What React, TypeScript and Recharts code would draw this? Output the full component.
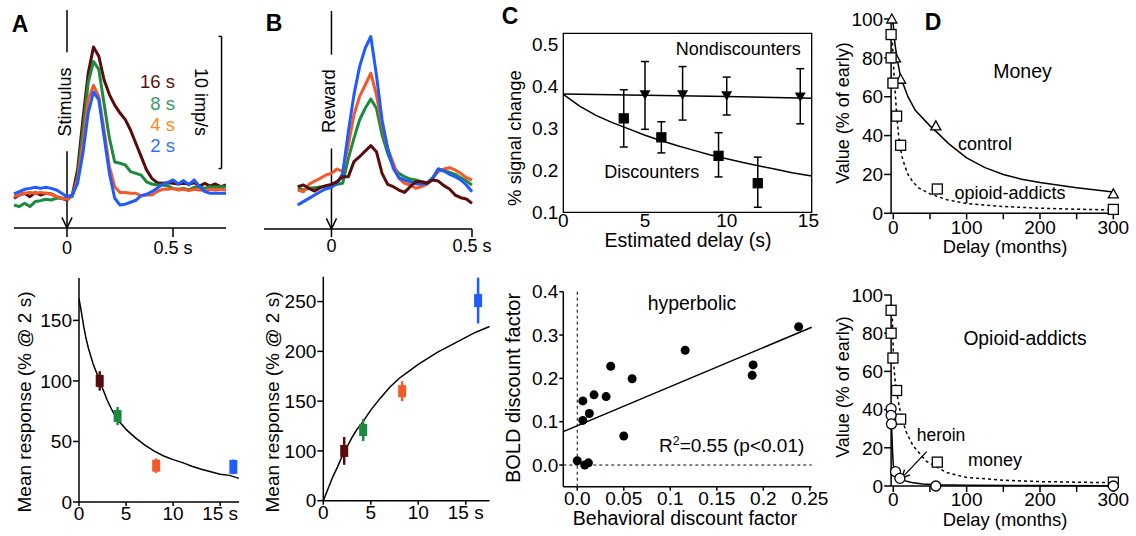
import React from "react";
import {
  ComposedChart,
  Line,
  Scatter,
  XAxis,
  YAxis,
  ErrorBar,
  ReferenceLine,
  ReferenceArea,
} from "recharts";

const FONT = '"Liberation Sans", Arial, Helvetica, sans-serif';
const INK = "#000";
const DARK = "#5a0b0b";
const GREEN = "#1c8a3f";
const ORANGE = "#f3592b";
const BLUE = "#1f5cfb";
const COLS = [DARK, GREEN, ORANGE, BLUE];

// A top: responses to the stimulus (imp/s), one trace per delay
const tA = [-0.25, -0.225, -0.2, -0.175, -0.15, -0.125, -0.1, -0.075, -0.05, -0.025, 0, 0.025, 0.05, 0.075, 0.1, 0.125, 0.15, 0.175, 0.2, 0.225, 0.25, 0.275, 0.3, 0.325, 0.35, 0.375, 0.4, 0.425, 0.45, 0.475, 0.5, 0.525, 0.55, 0.575, 0.6, 0.625, 0.65, 0.675, 0.7, 0.725, 0.75];
const a16 = [2.25, 2.5, 2.63, 2.37, 2.68, 2.5, 2.63, 2.58, 2.37, 2.25, 2.12, 2.5, 4.4, 8.2, 11.7, 13.7, 13.0, 11.2, 10.1, 9.3, 8.7, 8.2, 7.4, 6.4, 5.4, 4.4, 3.76, 3.43, 3.38, 3.43, 3.38, 3.33, 3.38, 3.33, 3.43, 3.18, 3.38, 3.18, 3.33, 3.13, 3.25];
const a8 = [1.74, 1.62, 1.87, 1.62, 2.0, 2.07, 2.17, 2.12, 2.25, 2.25, 2.25, 2.37, 3.9, 7.4, 11.0, 12.6, 12.0, 9.4, 6.8, 5.0, 4.9, 4.77, 4.27, 4.14, 4.0, 3.5, 3.33, 3.26, 3.26, 3.18, 3.0, 2.93, 3.0, 2.88, 3.08, 3.13, 3.0, 3.13, 3.08, 3.13, 3.13];
const a4 = [2.37, 2.5, 2.63, 2.68, 2.63, 2.68, 2.63, 2.58, 2.37, 2.25, 2.17, 2.5, 3.64, 6.4, 9.7, 10.8, 9.95, 7.4, 4.65, 3.13, 2.68, 2.68, 2.63, 2.63, 2.42, 2.5, 2.5, 2.75, 2.93, 2.93, 2.98, 2.88, 2.93, 2.83, 2.93, 2.88, 2.83, 2.93, 2.88, 2.93, 2.88];
const a2 = [2.58, 2.75, 2.93, 3.0, 3.08, 3.0, 3.08, 3.0, 2.88, 2.63, 2.37, 2.5, 3.38, 5.65, 8.7, 10.3, 9.7, 6.9, 4.14, 2.25, 1.74, 1.8, 1.95, 2.1, 2.45, 2.55, 2.75, 3.0, 3.3, 3.43, 3.64, 3.33, 3.59, 3.26, 3.64, 3.13, 2.75, 2.63, 2.63, 2.63, 2.63];

// B top: responses to the reward
const tB = [-0.12, -0.1, -0.08, -0.06, -0.04, -0.02, 0, 0.02, 0.04, 0.06, 0.08, 0.1, 0.12, 0.14, 0.16, 0.18, 0.2, 0.22, 0.24, 0.26, 0.28, 0.3, 0.32, 0.34, 0.36, 0.38, 0.4, 0.42, 0.44, 0.46, 0.48, 0.5];
const b2 = [1.81, 2.07, 2.32, 2.57, 2.82, 3.03, 3.15, 3.46, 4.21, 7.37, 10.15, 12.29, 13.68, 14.57, 11.66, 8.25, 6.11, 4.59, 3.88, 3.71, 3.58, 3.43, 3.38, 3.46, 3.83, 4.54, 4.39, 4.14, 3.96, 3.71, 3.33, 2.82];
const b4 = [2.95, 2.82, 3.38, 3.63, 3.83, 4.09, 4.21, 4.54, 4.34, 6.36, 8.63, 10.02, 10.9, 11.79, 10.15, 7.87, 6.11, 4.97, 3.83, 3.46, 3.33, 3.08, 3.2, 3.38, 3.83, 4.34, 4.54, 4.64, 4.47, 4.21, 3.88, 3.71];
const b8 = [3.08, 2.95, 3.08, 3.13, 3.18, 3.23, 3.28, 3.38, 3.46, 5.35, 6.86, 8.25, 9.14, 9.84, 9.14, 7.12, 5.73, 4.72, 4.21, 3.96, 3.78, 3.71, 3.58, 3.5, 3.88, 4.54, 4.39, 4.29, 4.14, 3.88, 3.63, 3.33];
const b16 = [3.2, 3.33, 3.08, 2.87, 3.13, 3.28, 3.38, 3.58, 3.96, 3.96, 5.1, 5.47, 5.9, 6.31, 5.85, 4.21, 3.38, 3.2, 2.95, 2.77, 3.2, 3.58, 3.58, 3.46, 3.71, 3.63, 3.28, 3.03, 2.57, 2.37, 2.27, 1.94];

// A bottom: mean stimulus response vs delay
const delayA = [2.2, 4.1, 8.2, 16.4];
const respA = [100, 71, 30, 29];
const errA = [8, 7.5, 6, 6];
const fitAx = [0, 0.25, 0.5, 0.75, 1, 1.5, 2, 2.5, 3, 3.5, 4, 5, 6, 7, 8, 9, 10, 11, 12, 13, 14, 15, 16, 17];
const fitAy = [168, 157, 145, 135, 127, 114, 104, 94, 84, 76, 69, 60, 53, 47, 42, 38, 35, 32.5, 29.5, 27, 25, 23, 22, 19.5];

// B bottom: mean reward response vs delay (axis as printed: lowest tick reads 0)
const delayB = [2.2, 4.2, 8.3, 16.3];
const respB = [100, 121, 160, 251];
const errB = [14, 11, 10, 23];
const fitBx = [0, 0.5, 1, 1.5, 2, 2.5, 3, 3.5, 4, 4.5, 5, 6, 7, 8, 9, 10, 11, 12, 13, 14, 15, 16, 17, 17.5];
const fitBy = [50, 62, 74, 84, 95, 104, 113, 121, 127, 134, 141, 153, 164, 173, 180, 187, 193, 199, 204, 209, 214, 219, 223, 225];

// C top: % signal change vs estimated delay
const ndX = [5.0, 7.3, 10.0, 14.5];
const ndY = [0.379, 0.379, 0.377, 0.374];
const ndLo = [0.297, 0.319, 0.331, 0.31];
const ndHi = [0.458, 0.446, 0.421, 0.441];
const dX = [3.7, 6.0, 9.5, 11.9];
const dY = [0.323, 0.278, 0.234, 0.169];
const dLo = [0.255, 0.241, 0.184, 0.112];
const dHi = [0.391, 0.315, 0.289, 0.231];
const ndFitX = [0, 5, 10, 15.2];
const ndFitY = [0.381, 0.378, 0.375, 0.371];
const dFitX = [0, 1, 2, 3, 4, 5, 6, 7, 8, 9, 10, 11, 12, 13, 14, 15.2];
const dFitY = [0.38, 0.352, 0.33, 0.313, 0.298, 0.283, 0.27, 0.258, 0.247, 0.236, 0.227, 0.218, 0.21, 0.202, 0.194, 0.186];

// C bottom: BOLD vs behavioral discount factor
const behav = [0.0, 0.008, 0.012, 0.006, 0.006, 0.013, 0.018, 0.031, 0.036, 0.05, 0.059, 0.116, 0.189, 0.188, 0.238];
const bold = [0.01, 0.0, 0.005, 0.148, 0.103, 0.119, 0.162, 0.158, 0.228, 0.067, 0.199, 0.265, 0.231, 0.207, 0.319];
const regX = [-0.015, 0.252];
const regY = [0.077, 0.318];

// D: value (% of early) vs delay (months)
const ctrlX = [-2, 3, 10, 58, 300];
const ctrlY = [100, 80, 69, 45, 10];
const ctrlFitX = [-2, 0, 2, 5, 10, 20, 30, 50, 60, 75, 90, 100, 125, 150, 175, 200, 250, 300];
const ctrlFitY = [100, 97, 88, 80, 70, 60, 53, 45, 41.5, 36, 31.5, 28.5, 23.5, 20, 17.5, 15.8, 13.2, 11];
const monX = [-3, -3, -0.5, 4.5, 10, 60, 300];
const monY = [92, 80, 67, 50, 35, 12.5, 2];
const monFitTopX = [-2, -1, 0, 1, 2.5, 4.5, 7, 9, 12, 16, 20, 27, 35, 50, 73, 100, 150, 200, 250, 300];
const monFitTopY = [94, 86, 79, 71, 63, 51, 41, 35, 29, 24, 20, 16, 13, 10, 7, 5, 3.5, 2.6, 2.1, 1.7];
const herX = [-3, -3, -2.5, 3, 9, 58, 300];
const herY = [40.5, 37, 32.5, 7.5, 4, 0, 0];
const herFitX = [-3, -2, -1, 0, 1, 3, 6, 10, 15, 25, 40, 60, 100, 200, 300];
const herFitY = [40, 28, 18, 11, 8.5, 6.5, 5, 3.8, 2.8, 1.8, 1.1, 0.7, 0.4, 0.2, 0.1];
const monFitBotX = [-2, -1, 0, 1, 2.5, 5, 7, 11, 18, 27, 45, 73, 100, 150, 200, 300];
const monFitBotY = [94, 85, 70, 62, 55, 48, 44, 36, 28, 21, 13, 7, 4.5, 3, 2.3, 1.7];

const pts = (xs: number[], ys: number[]) => xs.map((x, i) => ({ x, y: ys[i] }));
const withErr = (xs: number[], ys: number[], lo: number[], hi: number[]) =>
  xs.map((x, i) => ({ x, y: ys[i], e: [ys[i] - lo[i], hi[i] - ys[i]] }));

const axisLine = { stroke: INK, strokeWidth: 1.5 };
const tickLine = { stroke: INK, strokeWidth: 1.5 };
const tf = (size: number) => ({ fontSize: size, fill: INK, fontFamily: FONT });

const bar = (color: string, w: number, h: number) => (p: any) => (
  <rect x={p.cx - w / 2} y={p.cy - h / 2} width={w} height={h} fill={color} />
);
const square = (filled: boolean, s: number) => (p: any) => (
  <rect x={p.cx - s / 2} y={p.cy - s / 2} width={s} height={s} fill={filled ? INK : "#fff"} stroke={INK} strokeWidth={1.3} />
);
const triDown = (p: any) => (
  <path d={`M${p.cx - 5.5},${p.cy - 4.5}L${p.cx + 5.5},${p.cy - 4.5}L${p.cx},${p.cy + 5}Z`} fill={INK} />
);
const triUp = (p: any) => (
  <path d={`M${p.cx - 5},${p.cy + 4}L${p.cx + 5},${p.cy + 4}L${p.cx},${p.cy - 5}Z`} fill="#fff" stroke={INK} strokeWidth={1.3} />
);
const ring = (p: any) => <circle cx={p.cx} cy={p.cy} r={5} fill="#fff" stroke={INK} strokeWidth={1.3} />;
const dot = (p: any) => <circle cx={p.cx} cy={p.cy} r={4.5} fill={INK} />;

const seg = (key: string, x1: number, y1: number, x2: number, y2: number, w = 1.5) => (
  <ReferenceLine key={key} segment={[{ x: x1, y: y1 }, { x: x2, y: y2 }]} stroke={INK} strokeWidth={w} ifOverflow="visible" />
);

const trace = (key: string, xs: number[], ys: number[], color: string) => (
  <Line key={key} data={pts(xs, ys)} dataKey="y" type="linear" stroke={color} strokeWidth={3} strokeLinejoin="round" dot={false} activeDot={false} isAnimationActive={false} />
);
const curve = (key: string, xs: number[], ys: number[], dash?: string) => (
  <Line key={key} data={pts(xs, ys)} dataKey="y" type="linear" stroke={INK} strokeWidth={1.5} strokeDasharray={dash} dot={false} activeDot={false} isAnimationActive={false} />
);

function Pos({ l, t, children }: any) {
  return <div style={{ position: "absolute", left: l, top: t }}>{children}</div>;
}

function Txt({ x, y, s = 18, r = 0, c = INK, a = "middle", b = false, children }: any) {
  const tx = a === "middle" ? "-50%" : a === "end" ? "-100%" : "0%";
  return (
    <div
      style={{
        position: "absolute",
        left: x,
        top: y,
        transform: `translate(${tx}, -50%) rotate(${r}deg)`,
        fontSize: s,
        color: c,
        fontWeight: b ? 700 : 400,
        lineHeight: 1,
        whiteSpace: "nowrap",
        fontFamily: FONT,
      }}
    >
      {children}
    </div>
  );
}

function StimulusChart() {
  return (
    <ComposedChart width={240} height={270} margin={{ top: 10, right: 14, bottom: 0, left: 14 }}>
      <XAxis dataKey="x" type="number" domain={[-0.25, 0.75]} ticks={[0, 0.5]} tickFormatter={(v: number) => (v === 0 ? "0" : "0.5 s")} height={42} axisLine={axisLine} tickLine={tickLine} tickSize={9} tickMargin={4} tick={tf(18)} />
      <YAxis type="number" domain={[0, 16.5]} hide />
      {seg("s1", 0, 16.5, 0, 13.3)}
      {seg("s2", 0, 5.8, 0, 0)}
      {seg("s3", -0.024, 0.8, 0, 0)}
      {seg("s4", 0.024, 0.8, 0, 0)}
      {seg("sb", 0.729, 4.5, 0.729, 14.5)}
      {seg("sb1", 0.715, 14.5, 0.729, 14.5)}
      {seg("sb2", 0.715, 4.5, 0.729, 4.5)}
      {trace("a16", tA, a16, DARK)}
      {trace("a8", tA, a8, GREEN)}
      {trace("a4", tA, a4, ORANGE)}
      {trace("a2", tA, a2, BLUE)}
    </ComposedChart>
  );
}

function RewardChart() {
  return (
    <ComposedChart width={250} height={270} margin={{ top: 11, right: 28, bottom: 0, left: 14 }}>
      <XAxis dataKey="x" type="number" domain={[-0.24, 0.5]} ticks={[0, 0.5]} tickFormatter={(v: number) => (v === 0 ? "0" : "0.5 s")} height={41} axisLine={axisLine} tickLine={tickLine} tickSize={8} tickMargin={2} tick={tf(18)} />
      <YAxis type="number" domain={[0, 16.5]} hide />
      {seg("r1", 0, 16.5, 0, 13.2)}
      {seg("r2", 0, 6.1, 0, 0)}
      {seg("r3", -0.018, 0.8, 0, 0)}
      {seg("r4", 0.018, 0.8, 0, 0)}
      {trace("b8", tB, b8, GREEN)}
      {trace("b4", tB, b4, ORANGE)}
      {trace("b2", tB, b2, BLUE)}
      {trace("b16", tB, b16, DARK)}
    </ComposedChart>
  );
}

function MeanChart({ delays, resp, err, fx, fy, domainX, domainY, ticksY, fmtY, yw, w, right, top, blueH }: any) {
  return (
    <ComposedChart width={w} height={274} margin={{ top, right, bottom: 0, left: 0 }}>
      <XAxis dataKey="x" type="number" domain={domainX} ticks={[0, 5, 10, 15]} tickFormatter={(v: number) => (v === 15 ? "15 s" : String(v))} height={274 - top - 224} axisLine={axisLine} tickLine={tickLine} tickSize={4} tickMargin={1} tick={tf(19)} />
      <YAxis type="number" domain={domainY} ticks={ticksY} tickFormatter={fmtY} width={yw} axisLine={axisLine} tickLine={tickLine} tickSize={6} tickMargin={1} tick={tf(19)} />
      {curve("fit", fx, fy)}
      {delays.map((d: number, i: number) => (
        <Scatter key={"m" + i} data={[{ x: d, y: resp[i], e: err[i] }]} dataKey="y" shape={bar(COLS[i], 8, i === 3 ? blueH : 12)} isAnimationActive={false}>
          <ErrorBar dataKey="e" direction="y" width={0} stroke={COLS[i]} strokeWidth={2.5} />
        </Scatter>
      ))}
    </ComposedChart>
  );
}

function SignalChart() {
  return (
    <ComposedChart width={330} height={262} margin={{ top: 33.3, right: 18.3, bottom: 0, left: 0 }}>
      <XAxis dataKey="x" type="number" domain={[0, 15.2]} ticks={[0, 5, 10, 15]} height={49.7} axisLine={false} tickLine={false} tickSize={0} tickMargin={1} tick={tf(19)} />
      <YAxis type="number" domain={[0.1, 0.525]} ticks={[0.1, 0.2, 0.3, 0.4, 0.5]} tickFormatter={(v: number) => v.toFixed(1)} width={63.3} axisLine={false} tickLine={false} tickSize={0} tickMargin={5} tick={tf(19)} />
      <ReferenceArea x1={0} x2={15.2} y1={0.1} y2={0.525} fill="none" stroke={INK} strokeWidth={1.3} ifOverflow="visible" />
      {curve("nd", ndFitX, ndFitY)}
      {curve("d", dFitX, dFitY)}
      <Scatter data={withErr(ndX, ndY, ndLo, ndHi)} dataKey="y" shape={triDown} isAnimationActive={false}>
        <ErrorBar dataKey="e" direction="y" width={4} stroke={INK} strokeWidth={1.5} />
      </Scatter>
      <Scatter data={withErr(dX, dY, dLo, dHi)} dataKey="y" shape={square(true, 9)} isAnimationActive={false}>
        <ErrorBar dataKey="e" direction="y" width={4} stroke={INK} strokeWidth={1.5} />
      </Scatter>
    </ComposedChart>
  );
}

function FactorChart() {
  const fmt = (v: number) => (v === 0 ? "0.0" : String(v));
  return (
    <ComposedChart width={330} height={274} margin={{ top: 29.7, right: 18.3, bottom: 0, left: 0 }}>
      <XAxis dataKey="x" type="number" domain={[-0.015, 0.252]} ticks={[0, 0.05, 0.1, 0.15, 0.2, 0.25]} tickFormatter={fmt} height={49.3} axisLine={axisLine} tickLine={tickLine} tickSize={4} tickMargin={1} tick={tf(19)} />
      <YAxis type="number" domain={[-0.05, 0.4]} ticks={[0, 0.1, 0.2, 0.3, 0.4]} tickFormatter={(v: number) => v.toFixed(1)} width={63.3} axisLine={axisLine} tickLine={tickLine} tickSize={4} tickMargin={1} tick={tf(19)} />
      <ReferenceLine x={0} stroke={INK} strokeWidth={1} strokeDasharray="3 3" />
      <ReferenceLine y={0} stroke={INK} strokeWidth={1} strokeDasharray="3 3" />
      {curve("reg", regX, regY)}
      <Scatter data={pts(behav, bold)} dataKey="y" shape={dot} isAnimationActive={false} />
    </ComposedChart>
  );
}

function ValueChart({ top, children }: any) {
  return (
    <ComposedChart width={306} height={top === 19 ? 262 : 274} margin={{ top, right: 21.2, bottom: 0, left: 0 }}>
      <XAxis dataKey="x" type="number" domain={[-3, 302]} ticks={[0, 50, 100, 150, 200, 250, 300]} tickFormatter={(v: number) => (v % 100 === 0 ? String(v) : "")} height={top === 19 ? 48.7 : 50} axisLine={axisLine} tickLine={tickLine} tickSize={6} tickMargin={1} tick={tf(19)} />
      <YAxis type="number" domain={[0, 100]} ticks={[0, 20, 40, 60, 80, 100]} width={61.1} axisLine={axisLine} tickLine={tickLine} tickSize={7} tickMargin={1} tick={tf(19)} />
      {children}
    </ComposedChart>
  );
}

export default function App() {
  return (
    <div style={{ position: "absolute", left: 0, top: 0, width: 1136, height: 536, background: "#fff", overflow: "hidden", fontFamily: FONT }}>
      <Pos l={0} t={0}>
        <StimulusChart />
      </Pos>
      <Pos l={250} t={0}>
        <RewardChart />
      </Pos>
      <Pos l={0} t={262}>
        <MeanChart delays={delayA} resp={respA} err={errA} fx={fitAx} fy={fitAy} domainX={[0, 17]} domainY={[0, 185]} ticksY={[0, 50, 100, 150]} fmtY={(v: number) => String(v)} yw={79} w={250} right={11} top={16} blueH={14} />
      </Pos>
      <Pos l={250} t={262}>
        <MeanChart delays={delayB} resp={respB} err={errB} fx={fitBx} fy={fitBy} domainX={[0, 17.5]} domainY={[50, 275]} ticksY={[50, 100, 150, 200, 250]} fmtY={(v: number) => (v === 50 ? "0" : String(v))} yw={73.3} w={250} right={10.5} top={14.7} blueH={13} />
      </Pos>
      <Pos l={500} t={0}>
        <SignalChart />
      </Pos>
      <Pos l={500} t={262}>
        <FactorChart />
      </Pos>
      <Pos l={830} t={0}>
        <ValueChart top={19}>
          {curve("ctrl", ctrlFitX, ctrlFitY)}
          {curve("mon", monFitTopX, monFitTopY, "3 3")}
          <Scatter data={pts(ctrlX, ctrlY)} dataKey="y" shape={triUp} isAnimationActive={false} />
          <Scatter data={pts(monX, monY)} dataKey="y" shape={square(false, 10)} isAnimationActive={false} />
        </ValueChart>
      </Pos>
      <Pos l={830} t={262}>
        <ValueChart top={33}>
          {curve("her", herFitX, herFitY)}
          {curve("mon2", monFitBotX, monFitBotY, "3 3")}
          {seg("ar", 45.5, 18, 11.3, 4.1, 1.3)}
          {seg("ar1", 22.9, 5.8, 11.3, 4.1, 1.3)}
          {seg("ar2", 15.3, 8.5, 11.3, 4.1, 1.3)}
          <Scatter data={pts(monX, monY)} dataKey="y" shape={square(false, 10)} isAnimationActive={false} />
          <Scatter data={pts(herX, herY)} dataKey="y" shape={ring} isAnimationActive={false} />
        </ValueChart>
      </Pos>

      <Txt x={20} y={23.5} s={23} b>A</Txt>
      <Txt x={274} y={23} s={23} b>B</Txt>
      <Txt x={510} y={15.5} s={23} b>C</Txt>
      <Txt x={933} y={21.7} s={23} b>D</Txt>

      <Txt x={64.5} y={102} s={18} r={-90}>Stimulus</Txt>
      <Txt x={329} y={101} s={18.5} r={-90}>Reward</Txt>
      <Txt x={175} y={82} s={18.5} a="end" c="#5a1010">16 s</Txt>
      <Txt x={175} y={103.5} s={18.5} a="end" c="#3a9a60">8 s</Txt>
      <Txt x={175} y={125} s={18.5} a="end" c="#ff8a20">4 s</Txt>
      <Txt x={175} y={146} s={18.5} a="end" c="#3070ff">2 s</Txt>
      <Txt x={201} y={102} s={18} r={90}>10 imp/s</Txt>

      <Txt x={24} y={402} s={19} r={-90}>Mean response (% @ 2 s)</Txt>
      <Txt x={272} y={402} s={19} r={-90}>Mean response (% @ 2 s)</Txt>

      <Txt x={515} y={137.5} s={18.5} r={-90}>% signal change</Txt>
      <Txt x={688} y={240.5} s={19.5}>Estimated delay (s)</Txt>
      <Txt x={738.3} y={49.4} s={18}>Nondiscounters</Txt>
      <Txt x={651.7} y={171.8} s={18}>Discounters</Txt>

      <Txt x={513} y={388} s={20} r={-90}>BOLD discount factor</Txt>
      <Txt x={685} y={519} s={19.5}>Behavioral discount factor</Txt>
      <Txt x={692} y={304} s={19.4}>hyperbolic</Txt>
      <Txt x={731.7} y={445} s={19}>
        R<sup style={{ fontSize: "0.65em", verticalAlign: "0.55em", lineHeight: 0 }}>2</sup>=0.55 (p&lt;0.01)
      </Txt>

      <Txt x={843} y={113} s={18} r={-90}>Value (% of early)</Txt>
      <Txt x={843} y={387} s={18} r={-90}>Value (% of early)</Txt>
      <Txt x={1005} y={246.8} s={18.4}>Delay (months)</Txt>
      <Txt x={1005} y={520} s={18.4}>Delay (months)</Txt>
      <Txt x={1022.5} y={72.2} s={19.5}>Money</Txt>
      <Txt x={985} y={143.8} s={18}>control</Txt>
      <Txt x={1010} y={192.8} s={18}>opioid-addicts</Txt>
      <Txt x={1025} y={338.8} s={19.3}>Opioid-addicts</Txt>
      <Txt x={941} y={435.7} s={17.5}>heroin</Txt>
      <Txt x={995} y={459.7} s={18}>money</Txt>
    </div>
  );
}
